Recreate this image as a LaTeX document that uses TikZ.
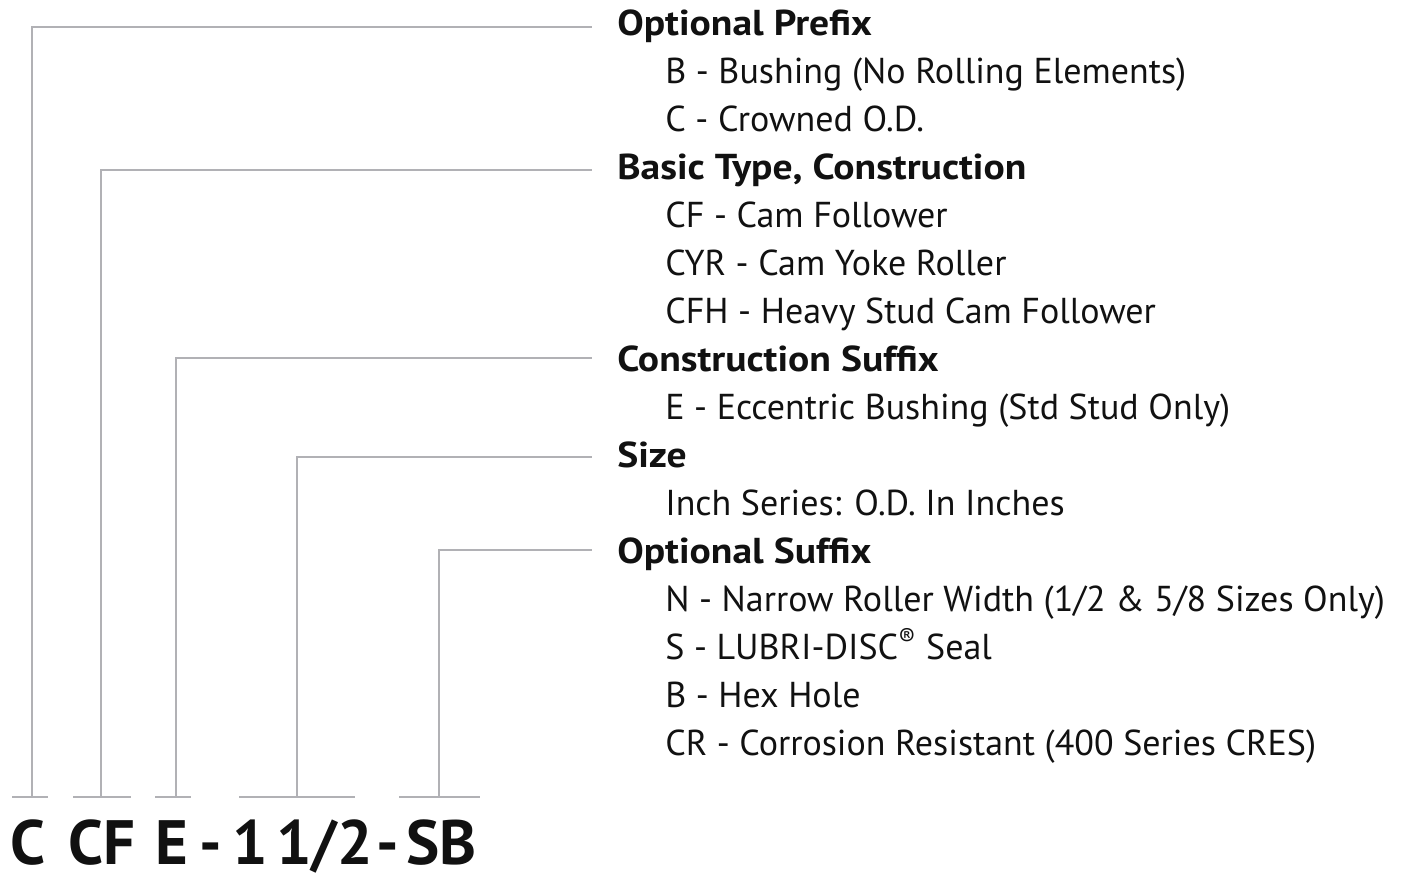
\documentclass[tikz,border=0pt]{standalone}
\usepackage{fontspec}
\setmainfont{PT Sans}
\newfontfamily\hdrfont{PT Sans}[FakeStretch=1.1]
\usepackage{tikz}
\usetikzlibrary{calc}
\definecolor{PNLine}{HTML}{B1B1B5}
\definecolor{PNText}{HTML}{111111}

\tikzset{
  leader/.style={PNLine,line width=1.6pt},
  hdr/.style={anchor=base west,inner sep=0pt,font=\hdrfont\fontsize{27}{32}\selectfont\bfseries,text=PNText},
  itm/.style={anchor=base west,inner sep=0pt,font=\fontsize{27}{32}\selectfont,text=PNText},
  code/.style={anchor=base west,inner sep=0pt,font=\fontsize{47}{56}\selectfont\bfseries,text=PNText}
}

\begin{document}
\begin{tikzpicture}[x=0.75pt,y=-0.75pt]
\path[use as bounding box] (0,0) rectangle (1401,875);
% headers and entries
\node[hdr] (pfx) at (617,35) {Optional Prefix};
\node[itm] (pfxb) at (665,83) {B - Bushing (No Rolling Elements)};
\node[itm] (pfxc) at (665,131) {C - Crowned O.D.};
\node[hdr] (typ) at (617,179) {Basic Type, Construction};
\node[itm] (typcf) at (665,227) {CF - Cam Follower};
\node[itm] (typcyr) at (665,275) {CYR - Cam Yoke Roller};
\node[itm] (typcfh) at (665,323) {CFH - Heavy Stud Cam Follower};
\node[hdr] (csx) at (617,371) {Construction Suffix};
\node[itm] (csxe) at (665,419) {E - Eccentric Bushing (Std Stud Only)};
\node[hdr] (siz) at (617,467) {Size};
\node[itm] (sizin) at (665,515) {Inch Series: O.D. In Inches};
\node[hdr] (osx) at (617,563) {Optional Suffix};
\node[itm] (osxn) at (665,611) {N - Narrow Roller Width (1/2 \& 5/8 Sizes Only)};
\node[itm] (osxs) at (665,659) {S - LUBRI-DISC\textsuperscript{\textregistered} Seal};
\node[itm] (osxb) at (665,707) {B - Hex Hole};
\node[itm] (osxcr) at (665,755) {CR - Corrosion Resistant (400 Series CRES)};
% part number
\node[code] (cpfx) at (10,864) {C};
\node[code] (ctyp) at (68,864) {CF};
\node[code] (ccsx) at (155,864) {E};
\node[code] (cda) at (199,864) {-};
\node[code] (cwhole) at (232,864) {1};
\node[code] (cfrac) at (276,864) {1/2};
\node[code] (cdb) at (376,864) {-};
\node[code] (cosx) at (406,864) {SB};
% bars over the part number
\draw[leader] (12,797) -- (48,797);
\draw[leader] (73,797) -- (131,797);
\draw[leader] (155,797) -- (191,797);
\draw[leader] (239,797) -- (355,797);
\draw[leader] (399,797) -- (480,797);
% leaders up to the headers
\draw[leader] (32,797) |- ($(pfx.base west)+(-25,-8)$);
\draw[leader] (101,797) |- ($(typ.base west)+(-25,-9)$);
\draw[leader] (176,797) |- ($(csx.base west)+(-25,-13)$);
\draw[leader] (297,797) |- ($(siz.base west)+(-25,-10)$);
\draw[leader] (439,797) |- ($(osx.base west)+(-25,-13)$);
\end{tikzpicture}
\end{document}
